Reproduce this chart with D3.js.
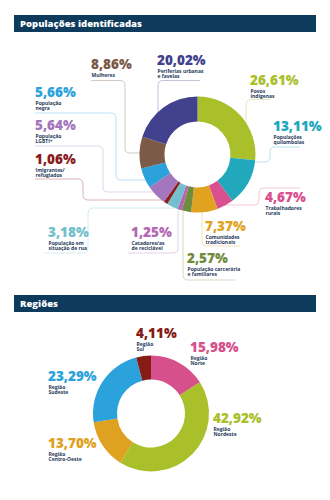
<!DOCTYPE html>
<html><head><meta charset="utf-8">
<script src="https://cdn.jsdelivr.net/npm/d3@7"></script>
<style>
html,body{margin:0;padding:0;background:#fff;}
svg{display:block;}
.pct{font-family:"Open Sans",sans-serif;font-weight:800;font-size:13.5px;}
.sub{font-family:"Open Sans",sans-serif;font-weight:700;font-size:5px;fill:#1f3a5c;}
.ttl{font-family:"Open Sans",sans-serif;font-weight:800;font-size:9.5px;fill:#fff;}
</style></head>
<body>
<script>
// ---- Data: Populações identificadas ----
const popCategories = ["Povos indígenas","Populações quilombolas","Trabalhadores rurais","Comunidades tradicionais","População carcerária e familiares","Catadores/as de reciclável","População em situação de rua","Imigrantes/ refugiados","População LGBTI+","População negra","Mulheres","Periferias urbanas e favelas"];
const popValues = [26.61,13.11,4.67,7.37,2.57,1.25,3.18,1.06,5.64,5.66,8.86,20.02];
const popLabelLines = [["Povos","indígenas"],["Populações","quilombolas"],["Trabalhadores","rurais"],["Comunidades","tradicionais"],["População carcerária","e familiares"],["Catadores/as","de reciclável"],["População em","situação de rua"],["Imigrantes/","refugiados"],["População","LGBTI+"],["População","negra"],["Mulheres"],["Periferias urbanas","e favelas"]];
const popColors = ["#a9c02b","#21a8bd","#d9508e","#e0a21f","#6e8c3b","#b466b4","#72c0cc","#8a1c1c","#a476be","#2ca2dc","#7b5a47","#41418d"];

// ---- Data: Regiões ----
const regCategories = ["Norte","Nordeste","Centro-Oeste","Sudeste","Sul"];
const regValues = [15.98,42.92,13.70,23.29,4.11];
const regColors = ["#d6508c","#a9c02b","#dfa120","#2ca2dc","#871b15"];

const fmt = v => d3.format(".2f")(v).replace(".", ",") + "%";

// ---- Layout ----
const W = 330, H = 500;
const svg = d3.select("body").append("svg").attr("width", W).attr("height", H);

function titleBar(y, text) {
  svg.append("rect").attr("x", 14).attr("y", y).attr("width", 302).attr("height", 17).attr("fill", "#0e3a5b");
  svg.append("text").attr("class", "ttl").attr("x", 20).attr("y", y + 12).text(text);
}
titleBar(15, "Populações identificadas");
titleBar(295, "Regiões");

// label placement (layout, not data)
const popLayout = [
  {x:250, y:85, route:[[270,99.5],[246,99.5]], dir:"v"},
  {x:273, y:131, route:[[300,147],[270,147],[270,162]], dir:"h"},
  {x:265, y:202, route:[[300,188],[259,188],[259,205]], dir:"h"},
  {x:205, y:231, route:[[240,246],[202,246]], dir:"v"},
  {x:187, y:263, route:[[235,280],[183,280]], dir:"v"},
  {x:131, y:237, route:[[128,253],[178,253]], dir:"v"},
  {x:48,  y:237, route:[[44,253],[88,253],[88,208]], dir:"h"},
  {x:35,  y:164, route:[[35,179],[83,179],[83,200]], dir:"h"},
  {x:35,  y:130, route:[[35,146],[103,146],[103,192]], dir:"h"},
  {x:35,  y:97,  route:[[35,113],[116,113],[116,180]], dir:"h"},
  {x:91,  y:69,  route:[[91,80.5],[125,80.5],[125,153]], dir:"h"},
  {x:157, y:65,  route:[[200,80.5],[158,80.5]], dir:"v"}
];
const regLayout = [
  {x:190, y:352},{x:213, y:423},{x:48, y:448},{x:48, y:381},{x:136, y:338}
];

function roundedPath(pts, r) {
  let d = `M${pts[0][0]},${pts[0][1]}`;
  for (let i = 1; i < pts.length - 1; i++) {
    const p0 = pts[i-1], p1 = pts[i], p2 = pts[i+1];
    const d1 = Math.hypot(p1[0]-p0[0], p1[1]-p0[1]), d2 = Math.hypot(p2[0]-p1[0], p2[1]-p1[1]);
    const rr = Math.min(r, d1/2, d2/2);
    const a = [p1[0] - (p1[0]-p0[0])/d1*rr, p1[1] - (p1[1]-p0[1])/d1*rr];
    const b = [p1[0] + (p2[0]-p1[0])/d2*rr, p1[1] + (p2[1]-p1[1])/d2*rr];
    d += `L${a[0]},${a[1]}Q${p1[0]},${p1[1]} ${b[0]},${b[1]}`;
  }
  const l = pts[pts.length-1];
  return d + `L${l[0]},${l[1]}`;
}

function donut(cx, cy, rIn, rOut, values, colors) {
  const pie = d3.pie().sort(null).value(d => d)(values);
  const arc = d3.arc().innerRadius(rIn).outerRadius(rOut);
  const g = svg.append("g").attr("transform", `translate(${cx},${cy})`);
  g.selectAll("path").data(pie).join("path").attr("d", arc).attr("fill", (d, i) => colors[i]);
  return pie;
}

function labels(layout, values, lines, colors, prefix) {
  layout.forEach((L, i) => {
    svg.append("text").attr("class", "pct").attr("x", L.x).attr("y", L.y).attr("fill", colors[i]).text(fmt(values[i]));
    const ls = prefix ? [prefix, lines[i]] : lines[i];
    ls.forEach((t, j) => {
      svg.append("text").attr("class", "sub").attr("x", L.x + 0.5).attr("y", L.y + 8.4 + j * 4.9).text(t);
    });
  });
}

// ---- Chart 1 ----
const c1 = {x:197.5, y:154.5, rIn:33, rOut:58};
const leaders = svg.append("g");
popLayout.forEach((L, i) => {
  const pts = L.route.slice();
  const last = pts[pts.length-1];
  const rr = c1.rOut - 4;
  let end;
  if (L.dir === "v") {
    const dx = last[0] - c1.x;
    const dy = Math.sqrt(Math.max(0, rr*rr - dx*dx));
    end = [last[0], last[1] < c1.y ? c1.y - dy : c1.y + dy];
  } else {
    const dy = last[1] - c1.y;
    const dx = Math.sqrt(Math.max(0, rr*rr - dy*dy));
    end = [last[0] < c1.x ? c1.x - dx : c1.x + dx, last[1]];
  }
  pts.push(end);
  leaders.append("path").attr("d", roundedPath(pts, 5)).attr("fill", "none")
    .attr("stroke", popColors[i]).attr("stroke-opacity", 0.4).attr("stroke-width", 0.8);
});
donut(c1.x, c1.y, c1.rIn, c1.rOut, popValues, popColors);
labels(popLayout, popValues, popLabelLines, popColors, null);

// ---- Chart 2 ----
donut(151, 413.5, 34, 58, regValues, regColors);
labels(regLayout, regValues, regCategories, regColors, "Região");
</script>
</body></html>
